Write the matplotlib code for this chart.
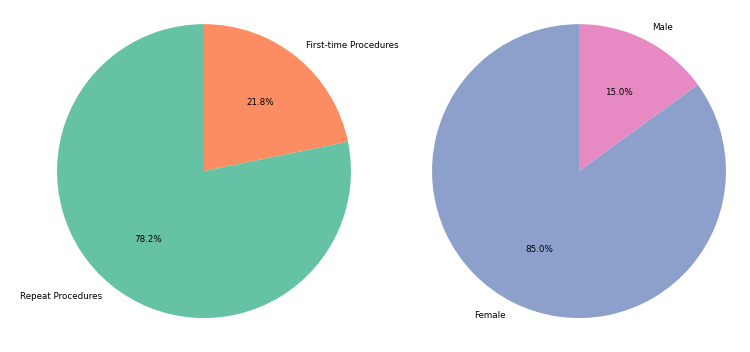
import matplotlib
matplotlib.use("Agg")
import matplotlib.pyplot as plt

proc_labels = ["First-time Procedures", "Repeat Procedures"]
proc_values = [21.8, 78.2]
proc_colors = ["#fc8d62", "#66c2a5"]

sex_labels = ["Male", "Female"]
sex_values = [15.0, 85.0]
sex_colors = ["#e78ac3", "#8da0cb"]

fig = plt.figure(figsize=(7.5, 3.52), dpi=100)
ax1 = fig.add_axes([0.272 - 0.196, 0.514 - 0.4176, 0.392, 0.835])
ax2 = fig.add_axes([0.772 - 0.196, 0.514 - 0.4176, 0.392, 0.835])

for ax, vals, labs, cols in [(ax1, proc_values, proc_labels, proc_colors),
                             (ax2, sex_values, sex_labels, sex_colors)]:
    ax.pie(vals, labels=labs, colors=cols, autopct="%1.1f%%", startangle=90,
           counterclock=False, textprops={"fontsize": 6.3})
    ax.set_xlim(-1, 1)
    ax.set_ylim(-1, 1)
    ax.set_aspect("equal")

fig.savefig("out.png", dpi=100)
